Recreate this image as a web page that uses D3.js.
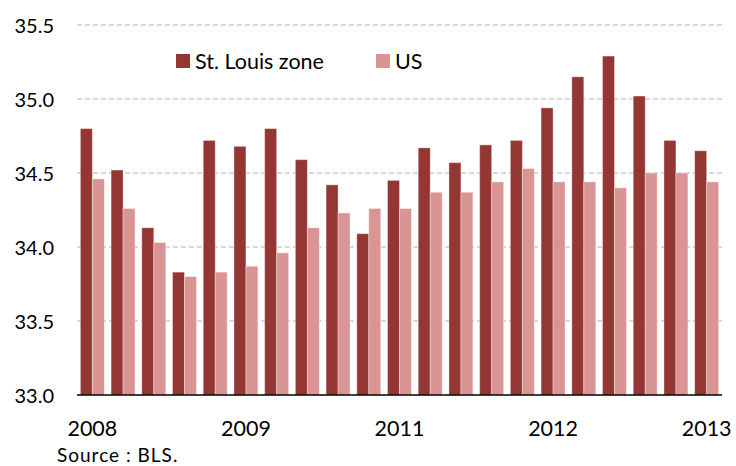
<!DOCTYPE html>
<html>
<head>
<meta charset="utf-8">
<script src="https://cdn.jsdelivr.net/npm/d3@7"></script>
<style>
  html, body { margin: 0; padding: 0; background: #fff; }
  svg { display: block; font-family: Lato, "Open Sans", sans-serif; }
</style>
</head>
<body>
<div id="chart"></div>
<script>
// Heures hebdomadaires moyennes, trimestriel 2008T1 → 2013T1
const quarters = d3.range(21).map((i) => `${2008 + Math.floor(i / 4)}Q${(i % 4) + 1}`)
const stLouis = [34.80, 34.52, 34.13, 33.83, 34.72, 34.68, 34.80, 34.59, 34.42, 34.09, 34.45,
  34.67, 34.57, 34.69, 34.72, 34.94, 35.15, 35.29, 35.02, 34.72, 34.65]
const us = [34.46, 34.26, 34.03, 33.80, 33.83, 33.87, 33.96, 34.13, 34.23, 34.26, 34.26,
  34.37, 34.37, 34.44, 34.53, 34.44, 34.44, 34.40, 34.50, 34.50, 34.44]
const seriesNames = ["St. Louis zone", "US"]
const colors = ["#943634", "#d99594"]
// Libellés de l'axe X (un tous les 5 trimestres, comme dans l'original)
const xLabels = [[0, "2008"], [5, "2009"], [10, "2011"], [15, "2012"], [20, "2013"]]
const yTicks = [33.0, 33.5, 34.0, 34.5, 35.0, 35.5]

const W = 736, H = 466
const margin = { top: 25, right: 14, bottom: 71, left: 77 }

const svg = d3.select("#chart").append("svg")
  .attr("width", W).attr("height", H)

const x = d3.scaleBand().domain(d3.range(quarters.length))
  .range([margin.left, W - margin.right]).paddingInner(0.22).paddingOuter(0.11)
const xs = d3.scaleBand().domain([0, 1]).range([0, x.bandwidth()])
const y = d3.scaleLinear().domain([33, 35.5]).range([H - margin.bottom, margin.top])

// Grille pointillée
svg.append("g")
  .selectAll("line")
  .data(yTicks.slice(1))
  .join("line")
  .attr("x1", margin.left).attr("x2", W - margin.right)
  .attr("y1", (d) => y(d)).attr("y2", (d) => y(d))
  .attr("stroke", "#d9d9d9").attr("stroke-width", 2)
  .attr("stroke-dasharray", "5,3")

// Libellés Y
svg.append("g")
  .selectAll("text")
  .data(yTicks)
  .join("text")
  .attr("x", 54).attr("y", (d) => y(d))
  .attr("text-anchor", "end").attr("dominant-baseline", "central")
  .attr("font-size", 20).attr("fill", "#000")
  .text((d) => d.toFixed(1))

// Barres
const series = [stLouis, us]
series.forEach((vals, s) => {
  svg.append("g")
    .selectAll("rect")
    .data(vals)
    .join("rect")
    .attr("x", (d, i) => x(i) + xs(s))
    .attr("width", xs.bandwidth())
    .attr("y", (d) => y(d))
    .attr("height", (d) => y(33) - y(d))
    .attr("fill", colors[s])
    .attr("stroke", "rgba(255,255,255,0.35)").attr("stroke-width", 1)
})

// Axe X
svg.append("line")
  .attr("x1", margin.left).attr("x2", W - margin.right)
  .attr("y1", y(33)).attr("y2", y(33))
  .attr("stroke", "#000").attr("stroke-width", 1.5)

svg.append("g")
  .selectAll("text")
  .data(xLabels)
  .join("text")
  .attr("x", (d) => x(d[0]) + x.bandwidth() / 2)
  .attr("y", 436)
  .attr("text-anchor", "middle")
  .attr("font-size", 21.5).attr("fill", "#000")
  .text((d) => d[1])

// Légende
const legendX = [176, 376]
seriesNames.forEach((name, s) => {
  svg.append("rect")
    .attr("x", legendX[s]).attr("y", 54).attr("width", 14).attr("height", 14)
    .attr("fill", colors[s])
  svg.append("text")
    .attr("x", legendX[s] + 19).attr("y", 69)
    .attr("font-size", 21.5).attr("fill", "#000")
    .text(name)
})

// Source
svg.append("text")
  .attr("x", 57).attr("y", 462)
  .attr("font-size", 19).attr("fill", "#000")
  .attr("letter-spacing", 1)
  .text("Source : BLS.")
</script>
</body>
</html>
